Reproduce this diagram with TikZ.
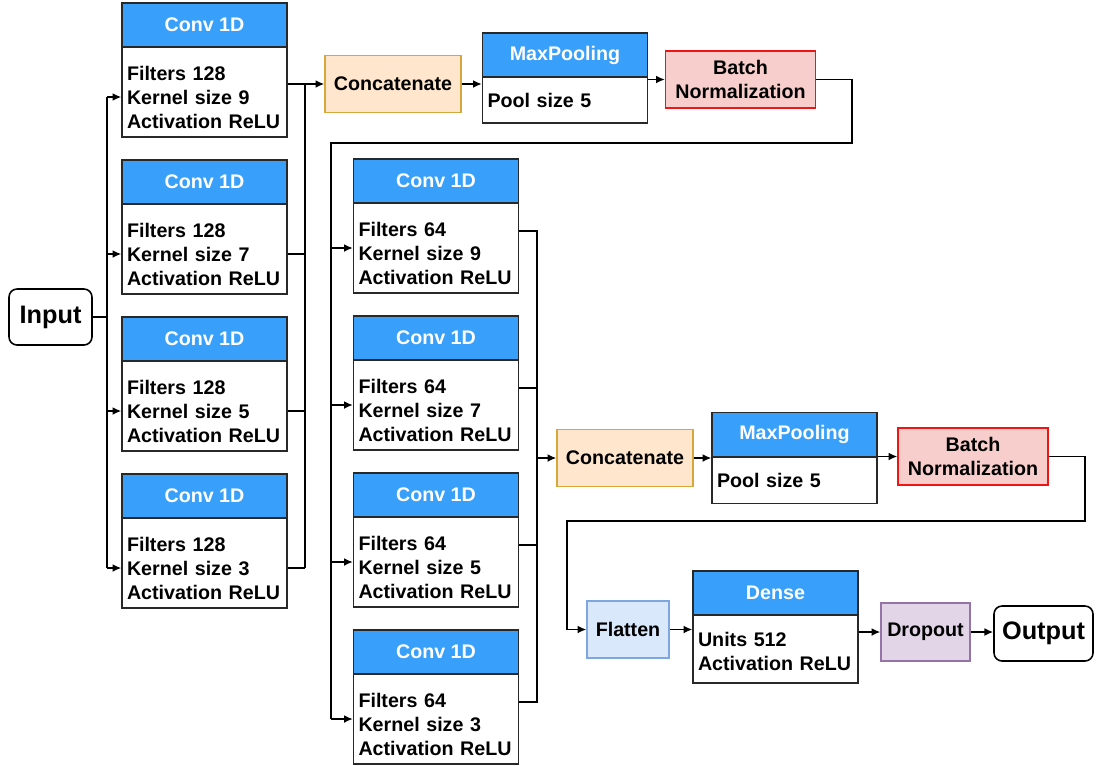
\documentclass[tikz,border=0pt]{standalone}
\usepackage{fontspec}
\setmainfont{Liberation Sans}
\usetikzlibrary{arrows.meta}

\definecolor{headblue}{RGB}{56,160,250}
\definecolor{boxgray}{RGB}{40,40,40}
\definecolor{catfill}{RGB}{255,230,204}
\definecolor{catdraw}{RGB}{214,168,60}
\definecolor{bnfill}{RGB}{248,206,204}
\definecolor{bndraw}{RGB}{240,20,20}
\definecolor{flatfill}{RGB}{218,232,252}
\definecolor{flatdraw}{RGB}{126,166,224}
\definecolor{dropfill}{RGB}{225,213,231}
\definecolor{dropdraw}{RGB}{150,115,166}

\begin{document}
\begin{tikzpicture}[x=0.02cm, y=-0.02cm]
    \tikzstyle{every node}=[font=\fontsize{11.2}{13.7}\selectfont\bfseries];
    \tikzstyle{head} = [draw=boxgray, line width=0.8pt, fill=headblue, text=white, minimum width=3.3cm, minimum height=0.88cm, inner sep=0pt]
    \tikzstyle{layer} = [draw=boxgray, line width=0.8pt, fill=white, text width=3.1cm, align=left, inner xsep=0.1cm, inner ysep=0pt, minimum height=1.8cm]
    \tikzstyle{convbody} = [layer, execute at begin node={\rule{0pt}{14pt}}]
    \tikzstyle{op} = [line width=0.8pt, align=center, minimum height=1.15cm, inner sep=0pt]
    \tikzstyle{term} = [draw=black, line width=0.9pt, rounded corners=1.6mm, minimum height=1.12cm, inner sep=0pt, font=\fontsize{14.4}{17}\selectfont\bfseries]
    \tikzstyle{flow} = [-{Latex[length=5pt,width=4.5pt]}, line width=0.9pt]
    \tikzstyle{bus} = [line width=0.9pt]

    \useasboundingbox (0,0) rectangle (1097,765);

    \node[term, minimum width=1.66cm] (Input) at (50.5,317) {Input};

    % first convolution column
    \node[head] (ConvA1Head) at (204.5,25) {Conv 1D};
    \node[convbody] (ConvA1) at (204.5,92) {Filters 128\\Kernel size 9\\Activation ReLU};
    \node[head] (ConvA2Head) at (204.5,182) {Conv 1D};
    \node[convbody] (ConvA2) at (204.5,249) {Filters 128\\Kernel size 7\\Activation ReLU};
    \node[head] (ConvA3Head) at (204.5,339) {Conv 1D};
    \node[convbody] (ConvA3) at (204.5,406) {Filters 128\\Kernel size 5\\Activation ReLU};
    \node[head] (ConvA4Head) at (204.5,496) {Conv 1D};
    \node[convbody] (ConvA4) at (204.5,563) {Filters 128\\Kernel size 3\\Activation ReLU};

    \node[op, draw=catdraw, fill=catfill, minimum width=2.72cm] (Concat1) at (393,84) {Concatenate};
    \node[head] (MaxPool1Head) at (565,55) {MaxPooling};
    \node[layer, minimum height=0.92cm] (MaxPool1) at (565,100) {Pool size 5};
    \node[op, draw=bndraw, fill=bnfill, minimum width=3cm, minimum height=1.14cm] (BatchNorm1) at (740.5,79.5) {Batch\\Normalization};

    % second convolution column
    \node[head] (ConvB1Head) at (436,181) {Conv 1D};
    \node[convbody] (ConvB1) at (436,248) {Filters 64\\Kernel size 9\\Activation ReLU};
    \node[head] (ConvB2Head) at (436,338) {Conv 1D};
    \node[convbody] (ConvB2) at (436,405) {Filters 64\\Kernel size 7\\Activation ReLU};
    \node[head] (ConvB3Head) at (436,495) {Conv 1D};
    \node[convbody] (ConvB3) at (436,562) {Filters 64\\Kernel size 5\\Activation ReLU};
    \node[head] (ConvB4Head) at (436,652) {Conv 1D};
    \node[convbody] (ConvB4) at (436,719) {Filters 64\\Kernel size 3\\Activation ReLU};

    \node[op, draw=catdraw, fill=catfill, minimum width=2.72cm] (Concat2) at (625,458) {Concatenate};
    \node[head] (MaxPool2Head) at (794.5,434.5) {MaxPooling};
    \node[layer, minimum height=0.92cm] (MaxPool2) at (794.5,480.5) {Pool size 5};
    \node[op, draw=bndraw, fill=bnfill, minimum width=3cm, minimum height=1.14cm] (BatchNorm2) at (973,456.5) {Batch\\Normalization};

    \node[op, draw=flatdraw, fill=flatfill, minimum width=1.64cm, minimum height=1.14cm] (Flatten) at (628,629.5) {Flatten};
    \node[head] (DenseHead) at (775.5,593) {Dense};
    \node[layer, minimum height=1.36cm, execute at begin node={\rule{0pt}{11pt}}] (Dense) at (775.5,649) {Units 512\\Activation ReLU};
    \node[op, draw=dropdraw, fill=dropfill, minimum width=1.78cm, minimum height=1.16cm] (Dropout) at (925.5,632) {Dropout};
    \node[term, minimum width=1.98cm, minimum height=1.1cm] (Output) at (1043.5,633.5) {Output};

    % input to first column
    \coordinate (InBusA) at (107,317);
    \draw[bus] (Input.east) -- (InBusA);
    \draw[bus] ([yshift=-1mm]InBusA |- ConvA1.west) -- ([yshift=-1mm]InBusA |- ConvA4.west);
    \draw[flow] ([yshift=-1mm]InBusA |- ConvA1.west) -- ([yshift=-1mm]ConvA1.west);
    \draw[flow] ([yshift=-1mm]InBusA |- ConvA2.west) -- ([yshift=-1mm]ConvA2.west);
    \draw[flow] ([yshift=-1mm]InBusA |- ConvA3.west) -- ([yshift=-1mm]ConvA3.west);
    \draw[flow] ([yshift=-1mm]InBusA |- ConvA4.west) -- ([yshift=-1mm]ConvA4.west);

    % first column to concatenate
    \coordinate (CatBusA) at (305,84);
    \draw[flow] (ConvA1.east |- Concat1.west) -- (Concat1.west);
    \draw[bus] (CatBusA) -- ([yshift=-1mm]CatBusA |- ConvA4.east);
    \draw[bus] ([yshift=-1mm]ConvA2.east) -- ([yshift=-1mm]CatBusA |- ConvA2.east);
    \draw[bus] ([yshift=-1mm]ConvA3.east) -- ([yshift=-1mm]CatBusA |- ConvA3.east);
    \draw[bus] ([yshift=-1mm]ConvA4.east) -- ([yshift=-1mm]CatBusA |- ConvA4.east);

    \draw[flow] (Concat1.east) -- (Concat1.east -| MaxPool1.west);
    \draw[flow] (MaxPool1.east |- BatchNorm1.west) -- (BatchNorm1.west);

    % back to second column
    \coordinate (TurnA) at (852,143);
    \coordinate (InBusB) at (331,143);
    \draw[bus] (BatchNorm1.east) -| (TurnA) -- (InBusB) -- (InBusB |- ConvB4.west);
    \draw[flow] (InBusB |- ConvB1.west) -- (ConvB1.west);
    \draw[flow] (InBusB |- ConvB2.west) -- (ConvB2.west);
    \draw[flow] (InBusB |- ConvB3.west) -- (ConvB3.west);
    \draw[flow] (InBusB |- ConvB4.west) -- (ConvB4.west);

    % second column to concatenate
    \coordinate (CatBusB) at (537,458);
    \coordinate (OutB1) at ([yshift=3.4mm]ConvB1.east);
    \coordinate (OutB2) at ([yshift=3.4mm]ConvB2.east);
    \coordinate (OutB3) at ([yshift=3.4mm]ConvB3.east);
    \coordinate (OutB4) at ([yshift=3.4mm]ConvB4.east);
    \draw[bus] (OutB1) -- (OutB1 -| CatBusB) -- (OutB4 -| CatBusB) -- (OutB4);
    \draw[bus] (OutB2) -- (OutB2 -| CatBusB);
    \draw[bus] (OutB3) -- (OutB3 -| CatBusB);
    \draw[flow] (CatBusB) -- (Concat2.west);

    \draw[flow] (Concat2.east) -- (Concat2.east -| MaxPool2Head.west);
    \draw[flow] (MaxPool2.east |- BatchNorm2.west) -- (BatchNorm2.west);

    % classifier
    \coordinate (TurnB) at (1085,521);
    \coordinate (FlatBus) at (567,521);
    \draw[flow] (BatchNorm2.east) -| (TurnB) -- (FlatBus) |- (Flatten.west);
    \draw[flow] (Flatten.east) -- (Flatten.east -| Dense.west);
    \draw[flow] (Dense.east |- Dropout.west) -- (Dropout.west);
    \draw[flow] (Dropout.east) -- (Dropout.east -| Output.west);

\end{tikzpicture}
\end{document}
